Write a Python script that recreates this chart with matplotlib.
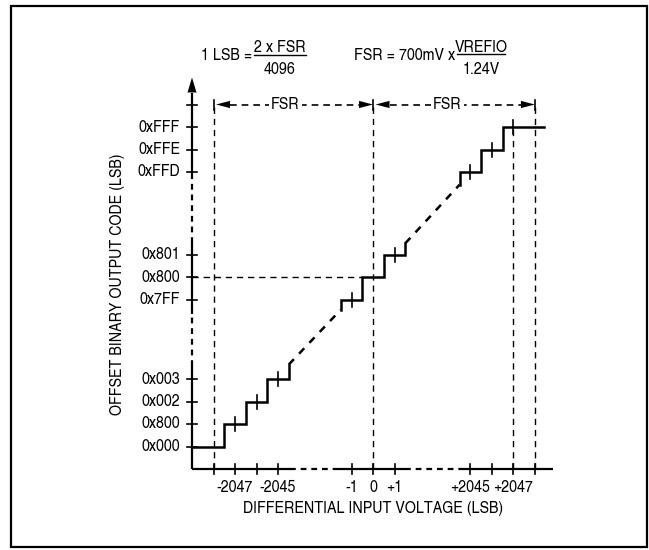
import matplotlib
matplotlib.use("Agg")
import matplotlib.pyplot as plt
from matplotlib.lines import Line2D
from matplotlib.patches import Rectangle, Polygon

plt.rcParams['font.family'] = ['TeX Gyre Heros Cn', 'Roboto Condensed', 'DejaVu Sans']

# ---------------- data ----------------
x_tick_codes = [-2048, -2047, -2046, -2045, -1, 0, 1, 2045, 2046, 2047, 2048]
x_tick_labels = ['', '-2047', '', '-2045', '-1', '0', '+1', '+2045', '', '+2047', '']
y_tick_codes = [0x000, 0x001, 0x002, 0x003, 0x7FF, 0x800, 0x801, 0xFFD, 0xFFE, 0xFFF, 0x1000]
y_tick_labels = ['0x000', '0x800', '0x002', '0x003', '0x7FF', '0x800', '0x801',
                 '0xFFD', '0xFFE', '0xFFF', '']
left_inputs = [-2047, -2046, -2045]
center_inputs = [-1, 0, 1]
right_inputs = [2045, 2046, 2047]
code_offset = 2048          # output code = input + 2048
max_code = 0xFFF
x_label = 'DIFFERENTIAL INPUT VOLTAGE (LSB)'
y_label = 'OFFSET BINARY OUTPUT CODE (LSB)'

# ---------------- broken-axis scales ----------------
PX_X, PX_Y = 21.5, 22.5      # pixels per slot
ORIG_X, ORIG_Y = 192, 469    # pixel of axis origin
W, H = 649, 550

def xp(c):
    if c < -1024:
        return 1.0 + (c + 2048)
    if c > 1024:
        return 15.95 + (c - 2048)
    return 8.42 + c

def yp(c):
    if c < 1024:
        return 1.0 + c
    if c > 3072:
        return 15.2 + (c - 0xFFF)
    return 8.53 + (c - 0x800)

def out_code(x):
    return min(max(x + code_offset, 0), max_code)

fig = plt.figure(figsize=(W / 100, H / 100), dpi=100)
ax = fig.add_axes([0, 0, 1, 1])
ax.set_xlim(-ORIG_X / PX_X, (W - ORIG_X) / PX_X)
ax.set_ylim((ORIG_Y - H) / PX_Y, ORIG_Y / PX_Y)
ax.axis('off')

def dx(px):
    return px / PX_X

def dy(px):
    return px / PX_Y

FS = 12.5
LW = 1.6

# border
fig.add_artist(Rectangle((11 / W, 1 - 547 / H), 636 / W, 541 / H, transform=fig.transFigure,
                         fill=False, lw=1.6, ec='black'))

# ---------------- axes ----------------
y_top_tick = yp(0x1000)
arrow_tip = y_top_tick + dy(27)
arrow_base = arrow_tip - dy(15)
ax.plot([0, 0], [0, yp(3.6)], color='k', lw=LW, solid_capstyle='butt')
ax.plot([0, 0], [yp(3.6), yp(0x7FF - 0.66)], color='k', lw=LW, ls=(0, (2.6, 2.2)))
ax.plot([0, 0], [yp(0x7FF - 0.66), yp(0x801 + 0.51)], color='k', lw=LW, solid_capstyle='butt')
ax.plot([0, 0], [yp(0x801 + 0.51), yp(0xFFD - 0.2)], color='k', lw=LW, ls=(0, (2.6, 2.2)))
ax.plot([0, 0], [yp(0xFFD - 0.2), arrow_base], color='k', lw=LW, solid_capstyle='butt')
ax.add_patch(Polygon([(0, arrow_tip), (-dx(4.5), arrow_base), (dx(4.5), arrow_base)],
                     closed=True, color='k', lw=0))

x_end = xp(2048.84)
ax.plot([0, xp(-2044.45)], [0, 0], color='k', lw=LW, solid_capstyle='butt')
ax.plot([xp(-2044.45), xp(-1.62)], [0, 0], color='k', lw=LW, ls=(0, (2.6, 2.2)))
ax.plot([xp(-1.62), xp(1.5)], [0, 0], color='k', lw=LW, solid_capstyle='butt')
ax.plot([xp(1.5), xp(2044.5)], [0, 0], color='k', lw=LW, ls=(0, (2.6, 2.2)))
ax.plot([xp(2044.5), x_end], [0, 0], color='k', lw=LW, solid_capstyle='butt')

for c, lab in zip(x_tick_codes, x_tick_labels):
    ax.plot([xp(c)] * 2, [-dy(5), dy(5)], color='k', lw=1.2)
    if lab:
        ax.text(xp(c), -dy(19), lab, ha='center', va='center', fontsize=FS)
for c, lab in zip(y_tick_codes, y_tick_labels):
    ax.plot([-dx(5), dx(5)], [yp(c)] * 2, color='k', lw=1.2)
    if lab:
        ax.text(-dx(12), yp(c), lab, ha='right', va='center', fontsize=FS)

ax.text(xp(0), -dy(40), x_label, ha='center', va='center', fontsize=FS)
ax.text(-dx(75), dy(469 - 284), y_label, ha='center', va='center',
        rotation=90, fontsize=FS)

# ---------------- guide lines ----------------
guide = dict(color='k', lw=1.0, ls=(0, (4.5, 3.5)))
ax.plot([xp(-2048)] * 2, [0, y_top_tick], **guide)
ax.plot([xp(0)] * 2, [0, y_top_tick], **guide)
ax.plot([xp(2047)] * 2, [0, yp(0xFFF)], **guide)
ax.plot([xp(2048)] * 2, [0, y_top_tick], **guide)
ax.plot([0, xp(-0.5)], [yp(0x800)] * 2, **guide)

def fsr_arrow(c0, c1, frac):
    x0, x1 = xp(c0), xp(c1)
    hl, hw = dx(14), dy(3.6)
    xl = x0 + dx(2.5)
    ax.add_patch(Polygon([(xl, y_top_tick), (xl + hl, y_top_tick + hw), (xl + hl, y_top_tick - hw)],
                         closed=True, color='k', lw=0))
    ax.add_patch(Polygon([(x1, y_top_tick), (x1 - hl, y_top_tick + hw), (x1 - hl, y_top_tick - hw)],
                         closed=True, color='k', lw=0))
    ax.plot([xl + hl, x1 - hl], [y_top_tick] * 2, color='k', lw=1.2, ls=(0, (4.0, 3.0)))
    ax.text(x0 + frac * (x1 - x0), y_top_tick, 'FSR', ha='center', va='center', fontsize=FS,
            bbox=dict(fc='white', ec='none', pad=1.5))

fsr_arrow(-2048, 0, 0.45)
fsr_arrow(0, 2048, 0.46)
for c in (-2048, 0, 2048):
    ax.plot([xp(c)] * 2, [y_top_tick - dy(5), y_top_tick + dy(5)], color='k', lw=1.2)

# ---------------- transfer function ----------------
def steps(inputs, start, end):
    xs, ys = [start[0]], [start[1]]
    for x in inputs:
        c = out_code(x)
        xs += [x - 0.5, x - 0.5]
        ys += [ys[-1], c]
    xs += [end[0]]
    ys += [ys[-1]]
    if len(end) > 2:
        xs += [end[0]]
        ys += [ys[-1] + end[2]]
    return [xp(v) for v in xs], [yp(v) for v in ys]

step_kw = dict(color='k', lw=1.8, solid_joinstyle='miter')
lx, ly = steps(left_inputs, (-2049, 0), (-2044.5, None, 0.64))
cx, cy = steps(center_inputs, (-1.5, out_code(-1) - 0.45), (1.5, None, 0.5))
rx, ry = steps(right_inputs, (2044.5, out_code(2045) - 0.56), (2048.4, None))
for X, Y in ((lx, ly), (cx, cy), (rx, ry)):
    ax.plot(X, Y, **step_kw)

diag = dict(color='k', lw=1.8, ls=(0, (3.0, 3.0)))
ax.plot([lx[-1], cx[0]], [ly[-1], cy[0]], **diag)
ax.plot([cx[-1], rx[0]], [cy[-1], ry[0]], **diag)

for x in left_inputs + center_inputs + right_inputs:
    if x == 0:
        continue
    ax.plot([xp(x)] * 2, [yp(out_code(x)) - dy(7), yp(out_code(x)) + dy(7)], color='k', lw=1.2)

# ---------------- formulas ----------------
def fx(px):
    return px / W

def fy(py):
    return 1 - py / H

fig.text(fx(252), fy(55), '1 LSB =', ha='right', va='center', fontsize=FS)
fig.text(fx(280), fy(47), '2 x FSR', ha='center', va='center', fontsize=FS)
fig.text(fx(280), fy(69), '4096', ha='center', va='center', fontsize=FS)
fig.add_artist(Line2D([fx(254), fx(306)], [fy(55)] * 2, color='k', lw=1.0))
fig.text(fx(455), fy(55), 'FSR = 700mV x', ha='right', va='center', fontsize=FS)
fig.text(fx(481), fy(47), 'VREFIO', ha='center', va='center', fontsize=FS)
fig.text(fx(481), fy(69), '1.24V', ha='center', va='center', fontsize=FS)
fig.add_artist(Line2D([fx(457), fx(505)], [fy(54)] * 2, color='k', lw=1.0))

fig.savefig('out.png', dpi=100)
